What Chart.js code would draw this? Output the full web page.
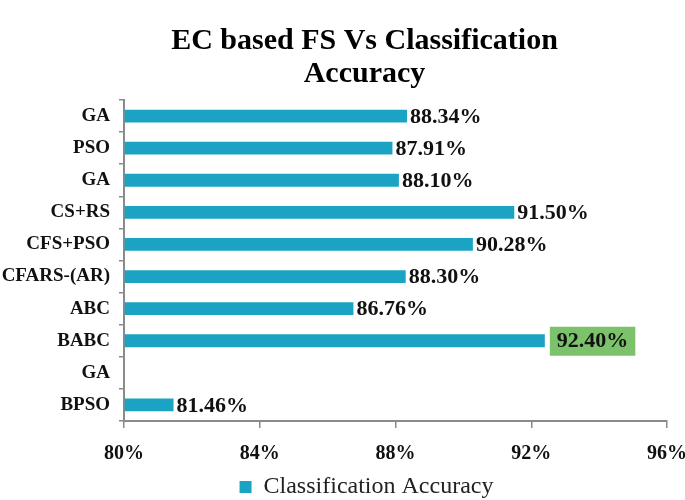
<!DOCTYPE html>
<html>
<head>
<meta charset="utf-8">
<script src="https://cdn.jsdelivr.net/npm/chart.js@4/dist/chart.umd.min.js"></script>
<style>
  html, body { margin: 0; padding: 0; background: #ffffff; }
  #wrap { width: 685px; height: 500px; }
</style>
</head>
<body>
<div id="wrap"><canvas id="c" width="685" height="500"></canvas></div>
<script>
// ---- data ----
const categories = ['GA', 'PSO', 'GA', 'CS+RS', 'CFS+PSO', 'CFARS-(AR)', 'ABC', 'BABC', 'GA', 'BPSO'];
const accuracy = [88.34, 87.91, 88.10, 91.50, 90.28, 88.30, 86.76, 92.40, null, 81.46];
const xTickValues = [80, 84, 88, 92, 96];
const seriesName = 'Classification Accuracy';
const titleLines = ['EC based FS Vs Classification', 'Accuracy'];

// ---- styles ----
const SERIF = "'Liberation Serif', 'Times New Roman', serif";
const BAR_COLOR = '#1aa3c2';
const AXIS_COLOR = '#8a8a8a';
const HIGHLIGHT_BG = '#7cc26b';

const maxVal = Math.max(...accuracy.filter(v => v !== null));
const highlightIndex = accuracy.indexOf(maxVal);

const valueLabels = {
  id: 'valueLabels',
  afterDatasetsDraw(chart) {
    const ctx = chart.ctx;
    const meta = chart.getDatasetMeta(0);
    ctx.save();
    ctx.font = "bold 22px " + SERIF;
    ctx.textBaseline = 'middle';
    ctx.textAlign = 'left';
    meta.data.forEach((el, i) => {
      const v = accuracy[i];
      if (v === null || v === undefined) return;
      const txt = v.toFixed(2) + '%';
      let x = el.x + 3;
      const y = el.y + 1;
      if (i === highlightIndex) {
        const w = ctx.measureText(txt).width;
        const bx = el.x + 5;
        ctx.fillStyle = HIGHLIGHT_BG;
        ctx.fillRect(bx, y - 15, w + 14, 29);
        x = bx + 7;
      }
      ctx.fillStyle = '#111';
      ctx.fillText(txt, x, y);
    });
    ctx.restore();
  }
};

const shiftBoxes = {
  id: 'shiftBoxes',
  afterLayout(chart) {
    if (chart.titleBlock) { chart.titleBlock.left += 22; chart.titleBlock.right += 22; }
    if (chart.legend) {
      chart.legend.left += 24; chart.legend.right += 24;
      chart.legend.top += 9; chart.legend.bottom += 9;
    }
  }
};

new Chart(document.getElementById('c'), {
  type: 'bar',
  data: {
    labels: categories,
    datasets: [{
      label: seriesName,
      data: accuracy,
      base: 80,
      backgroundColor: BAR_COLOR,
      borderWidth: 0,
      barPercentage: 0.4,
      categoryPercentage: 1.0
    }]
  },
  plugins: [valueLabels, shiftBoxes],
  options: {
    indexAxis: 'y',
    responsive: false,
    animation: false,
    layout: { padding: { left: 0, right: 0, top: 0, bottom: 0 } },
    scales: {
      x: {
        type: 'linear',
        min: 80,
        max: 96,
        afterBuildTicks(scale) { scale.ticks = xTickValues.map(v => ({ value: v })); },
        afterFit(scale) { scale.height = 43; scale.paddingRight = 18; scale.paddingLeft = 0; },
        ticks: {
          callback: v => v + '%',
          color: '#111',
          font: { family: SERIF, size: 20, weight: 'bold' },
          padding: 14,
          maxRotation: 0
        },
        grid: { display: true, drawOnChartArea: false, drawTicks: true, tickLength: 7, color: AXIS_COLOR, lineWidth: 1.5 },
        border: { display: true, color: AXIS_COLOR, width: 2 }
      },
      y: {
        type: 'category',
        offset: true,
        afterFit(scale) { scale.width = 124; },
        ticks: {
          color: '#111',
          font: { family: SERIF, size: 19, weight: 'bold' },
          padding: 9,
          autoSkip: false
        },
        grid: { display: true, drawOnChartArea: false, drawTicks: true, tickLength: 5, color: AXIS_COLOR, lineWidth: 1.5, offset: true },
        border: { display: true, color: AXIS_COLOR, width: 2 }
      }
    },
    plugins: {
      title: {
        display: true,
        text: titleLines,
        color: '#000',
        font: { family: SERIF, size: 30, weight: 'bold', lineHeight: 1.1 },
        padding: { top: 25, bottom: 9 }
      },
      legend: {
        display: true,
        position: 'bottom',
        labels: {
          boxWidth: 12,
          boxHeight: 12,
          padding: 2,
          color: '#222',
          font: { family: SERIF, size: 24 }
        }
      },
      tooltip: { enabled: false }
    }
  }
});
</script>
</body>
</html>
